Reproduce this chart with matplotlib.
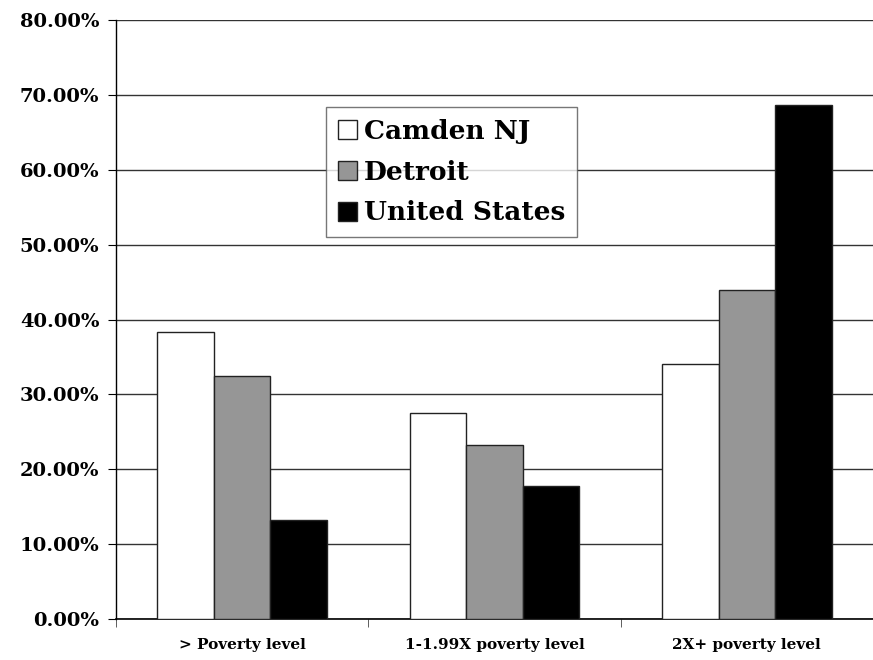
import matplotlib
matplotlib.use("Agg")
import matplotlib.pyplot as plt
import numpy as np
from matplotlib.ticker import FuncFormatter, MultipleLocator

# Daten
categories = ["> Poverty level", "1-1.99X poverty level", "2X+ poverty level"]
series_names = ["Camden NJ", "Detroit", "United States"]
camden = [38.3, 27.5, 34.0]
detroit = [32.4, 23.2, 44.0]
united_states = [13.2, 17.8, 68.7]
series_colors = ["#ffffff", "#969696", "#000000"]

plt.rcParams["font.family"] = ["DejaVu Serif"]
plt.rcParams["font.weight"] = "bold"

fig = plt.figure(figsize=(8.73, 6.6), dpi=100)
ax = fig.add_axes([0.1329, 0.0621, 0.8671, 0.9076])

x = np.arange(len(categories))
width = 0.224
values = [camden, detroit, united_states]
for i, (name, vals, col) in enumerate(zip(series_names, values, series_colors)):
    ax.bar(x + (i - 1) * width, vals, width, color=col, edgecolor="#222222",
           linewidth=1.0, label=name, zorder=3)

ax.set_xlim(-0.5, len(categories) - 0.5)
ax.set_ylim(0, 80)
ax.yaxis.set_major_locator(MultipleLocator(10))
ax.yaxis.set_major_formatter(FuncFormatter(lambda v, p: f"{v:.2f}%"))
ax.yaxis.grid(True, color="#333333", linewidth=1.0, zorder=0)

ax.set_xticks(x)
ax.set_xticklabels(categories, fontsize=11, fontweight="bold")
ax.set_xticks(np.arange(-0.5, len(categories), 1.0), minor=True)
ax.tick_params(axis="x", which="major", length=0, pad=14)
ax.tick_params(axis="x", which="minor", length=6, direction="out", color="#444444")
ax.tick_params(axis="y", length=6, direction="out", labelsize=14, pad=6)
for lab in ax.get_yticklabels():
    lab.set_fontweight("bold")

for side in ["top", "right"]:
    ax.spines[side].set_visible(False)
ax.spines["left"].set_color("black")
ax.spines["bottom"].set_color("black")
ax.spines["left"].set_linewidth(1.0)
ax.spines["bottom"].set_linewidth(1.2)

leg = ax.legend(loc="upper left", bbox_to_anchor=(0.277, 0.855), borderaxespad=0,
                frameon=True, fancybox=False, handlelength=0.75, handleheight=0.75,
                handletextpad=0.25, borderpad=0.45, labelspacing=0.6,
                prop={"weight": "bold", "size": 19})
leg.get_frame().set_edgecolor("#555555")
leg.get_frame().set_linewidth(1.0)
leg.set_zorder(5)

fig.savefig("out.png", dpi=100)
